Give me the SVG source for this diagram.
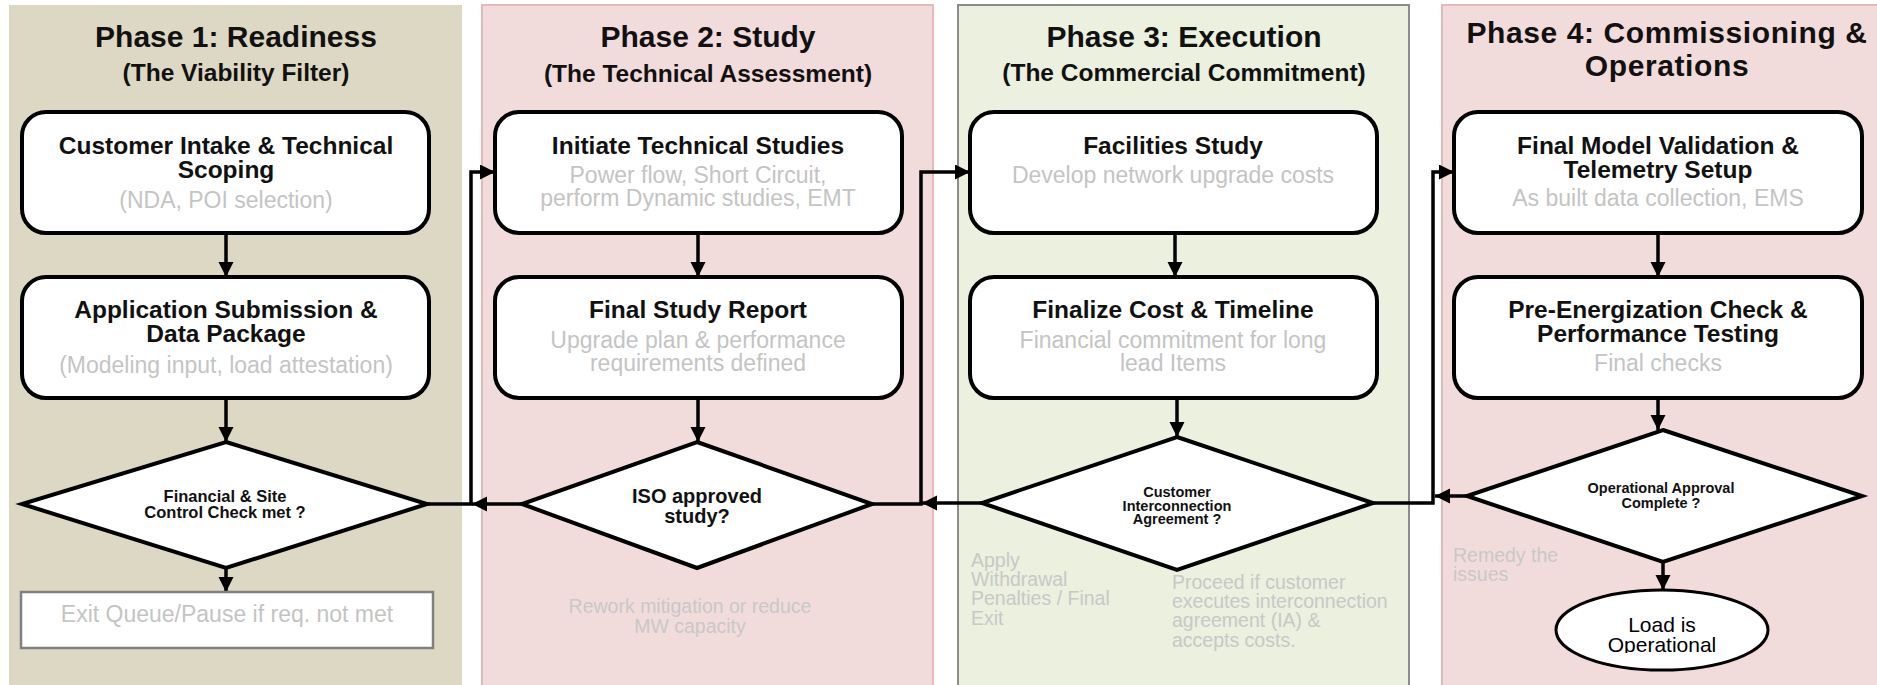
<svg xmlns="http://www.w3.org/2000/svg" width="1877" height="685" viewBox="0 0 1877 685">
<style>
text{font-family:"Liberation Sans",Arial,Helvetica,sans-serif;}
.pt{font-size:30px;font-weight:bold;fill:#111;text-anchor:middle;}
.ps{font-size:24.5px;font-weight:bold;fill:#111;text-anchor:middle;}
.bt{font-size:24.5px;font-weight:bold;fill:#111;text-anchor:middle;}
.gt{font-size:23px;fill:#c4c4c4;text-anchor:middle;}
.note{font-size:19.5px;fill:#c8c8c8;}
.box{fill:#fff;stroke:#000;stroke-width:4;}
.dia{fill:#fff;stroke:#000;stroke-width:4;stroke-linejoin:miter;}
.dt{font-weight:bold;fill:#111;text-anchor:middle;}
.con{fill:none;stroke:#000;stroke-width:3.5;}
</style>
<defs>
<marker id="ah" markerUnits="userSpaceOnUse" markerWidth="16" markerHeight="16" refX="15" refY="7.5" orient="auto">
<path d="M0,0 L15,7.5 L0,15 z" fill="#000"/>
</marker>
<clipPath id="ovclip"><rect x="1540" y="590" width="250" height="63"/></clipPath>
</defs>

<g id="panels">
<rect id="phase1" x="9" y="5" width="453" height="690" fill="#ddd8c3"/>
<rect id="phase2" x="482" y="5" width="451" height="690" fill="#f2dcdb" stroke="#e6b9b8" stroke-width="2"/>
<rect id="phase3" x="958" y="5" width="451" height="690" fill="#ebf0df" stroke="#8c8c8c" stroke-width="2"/>
<rect id="phase4" x="1442" y="5" width="450" height="690" fill="#f2dcdb" stroke="#e6b9b8" stroke-width="2"/>
<text class="pt" x="236" y="47">Phase 1: Readiness</text>
<text class="ps" x="236" y="81">(The Viability Filter)</text>
<text class="pt" x="708" y="47">Phase 2: Study</text>
<text class="ps" x="708" y="82">(The Technical Assessment)</text>
<text class="pt" x="1184" y="47">Phase 3: Execution</text>
<text class="ps" x="1184" y="81">(The Commercial Commitment)</text>
<text class="pt" x="1667" y="43" font-size="29" letter-spacing="0.6">Phase 4: Commissioning &amp;</text>
<text class="pt" x="1667" y="76" font-size="29" letter-spacing="0.6">Operations</text>
</g>

<g id="connectors">
<path class="con" d="M226,233 V277" marker-end="url(#ah)"/>
<path class="con" d="M226,398 V442" marker-end="url(#ah)"/>
<path class="con" d="M226,568 V592" marker-end="url(#ah)"/>
<path class="con" d="M427,504 H471 V172 H495" marker-end="url(#ah)"/>
<path class="con" d="M522,504 H472" marker-end="url(#ah)"/>
<path class="con" d="M698,233 V277" marker-end="url(#ah)"/>
<path class="con" d="M698,398 V442" marker-end="url(#ah)"/>
<path class="con" d="M872,504 H921 V172 H970" marker-end="url(#ah)"/>
<path class="con" d="M982,503 H922" marker-end="url(#ah)"/>
<path class="con" d="M1175,233 V277" marker-end="url(#ah)"/>
<path class="con" d="M1177,398 V437" marker-end="url(#ah)"/>
<path class="con" d="M1373,503 H1433 V172 H1454" marker-end="url(#ah)"/>
<path class="con" d="M1467,496 H1435" marker-end="url(#ah)"/>
<path class="con" d="M1658,233 V277" marker-end="url(#ah)"/>
<path class="con" d="M1658,398 V430" marker-end="url(#ah)"/>
<path class="con" d="M1663,562 V590" marker-end="url(#ah)"/>
</g>

<g id="n1">
<rect class="box" x="22" y="112" width="407" height="121" rx="24"/>
<text class="bt" x="226" y="154">Customer Intake &amp; Technical</text>
<text class="bt" x="226" y="178">Scoping</text>
<text class="gt" x="226" y="208">(NDA, POI selection)</text>
</g>
<g id="n2">
<rect class="box" x="22" y="277" width="407" height="121" rx="24"/>
<text class="bt" x="226" y="318">Application Submission &amp;</text>
<text class="bt" x="226" y="342">Data Package</text>
<text class="gt" x="226" y="373">(Modeling input, load attestation)</text>
</g>
<g id="d1">
<polygon class="dia" points="226,442 427,504 226,568 22,504"/>
<text class="dt" x="225" y="502" font-size="16.5">Financial &amp; Site</text>
<text class="dt" x="225" y="518" font-size="16.5">Control Check met ?</text>
</g>
<g id="exit">
<rect x="21" y="592" width="412" height="56" fill="#fff" stroke="#808080" stroke-width="2.5"/>
<text class="gt" x="227" y="622" font-size="20.5">Exit Queue/Pause if req. not met</text>
</g>

<g id="n3">
<rect class="box" x="495" y="112" width="407" height="121" rx="24"/>
<text class="bt" x="698" y="154">Initiate Technical Studies</text>
<text class="gt" x="698" y="183">Power flow, Short Circuit,</text>
<text class="gt" x="698" y="206">perform Dynamic studies, EMT</text>
</g>
<g id="n4">
<rect class="box" x="495" y="277" width="407" height="121" rx="24"/>
<text class="bt" x="698" y="318">Final Study Report</text>
<text class="gt" x="698" y="348">Upgrade plan &amp; performance</text>
<text class="gt" x="698" y="371">requirements defined</text>
</g>
<g id="d2">
<polygon class="dia" points="697,442 872,504 697,568 522,504"/>
<text class="dt" x="697" y="503" font-size="20">ISO approved</text>
<text class="dt" x="697" y="523" font-size="20">study?</text>
</g>
<g id="note2">
<text class="note" x="690" y="613" text-anchor="middle">Rework mitigation or reduce</text>
<text class="note" x="690" y="633" text-anchor="middle">MW capacity</text>
</g>

<g id="n5">
<rect class="box" x="970" y="112" width="407" height="121" rx="24"/>
<text class="bt" x="1173" y="154">Facilities Study</text>
<text class="gt" x="1173" y="183">Develop network upgrade costs</text>
</g>
<g id="n6">
<rect class="box" x="970" y="277" width="407" height="121" rx="24"/>
<text class="bt" x="1173" y="318">Finalize Cost &amp; Timeline</text>
<text class="gt" x="1173" y="348">Financial commitment for long</text>
<text class="gt" x="1173" y="371">lead Items</text>
</g>
<g id="d3">
<polygon class="dia" points="1177,437 1373,503 1177,570 982,503"/>
<text class="dt" x="1177" y="497" font-size="14.5">Customer</text>
<text class="dt" x="1177" y="511" font-size="14.5">Interconnection</text>
<text class="dt" x="1177" y="524" font-size="14.5">Agreement ?</text>
</g>
<g id="note3a">
<text class="note" x="971" y="567">Apply</text>
<text class="note" x="971" y="586">Withdrawal</text>
<text class="note" x="971" y="605">Penalties / Final</text>
<text class="note" x="971" y="625">Exit</text>
</g>
<g id="note3b">
<text class="note" x="1172" y="589">Proceed if customer</text>
<text class="note" x="1172" y="608">executes interconnection</text>
<text class="note" x="1172" y="627">agreement (IA) &amp;</text>
<text class="note" x="1172" y="647">accepts costs.</text>
</g>

<g id="n7">
<rect class="box" x="1454" y="112" width="408" height="121" rx="24"/>
<text class="bt" x="1658" y="154">Final Model Validation &amp;</text>
<text class="bt" x="1658" y="178">Telemetry Setup</text>
<text class="gt" x="1658" y="206">As built data collection, EMS</text>
</g>
<g id="n8">
<rect class="box" x="1454" y="277" width="408" height="121" rx="24"/>
<text class="bt" x="1658" y="318">Pre-Energization Check &amp;</text>
<text class="bt" x="1658" y="342">Performance Testing</text>
<text class="gt" x="1658" y="371">Final checks</text>
</g>
<g id="d4">
<polygon class="dia" points="1663,430 1862,496 1663,562 1467,496"/>
<text class="dt" x="1661" y="493" font-size="14.5">Operational Approval</text>
<text class="dt" x="1661" y="508" font-size="14.5">Complete ?</text>
</g>
<g id="note4">
<text class="note" x="1453" y="562">Remedy the</text>
<text class="note" x="1453" y="581">issues</text>
</g>
<g id="end">
<ellipse cx="1662" cy="630" rx="106" ry="40" fill="#fff" stroke="#000" stroke-width="3"/>
<g clip-path="url(#ovclip)">
<text x="1662" y="632" font-size="21" fill="#000" text-anchor="middle">Load is</text>
<text x="1662" y="652" font-size="21" fill="#000" text-anchor="middle">Operational</text>
</g>
</g>
</svg>
